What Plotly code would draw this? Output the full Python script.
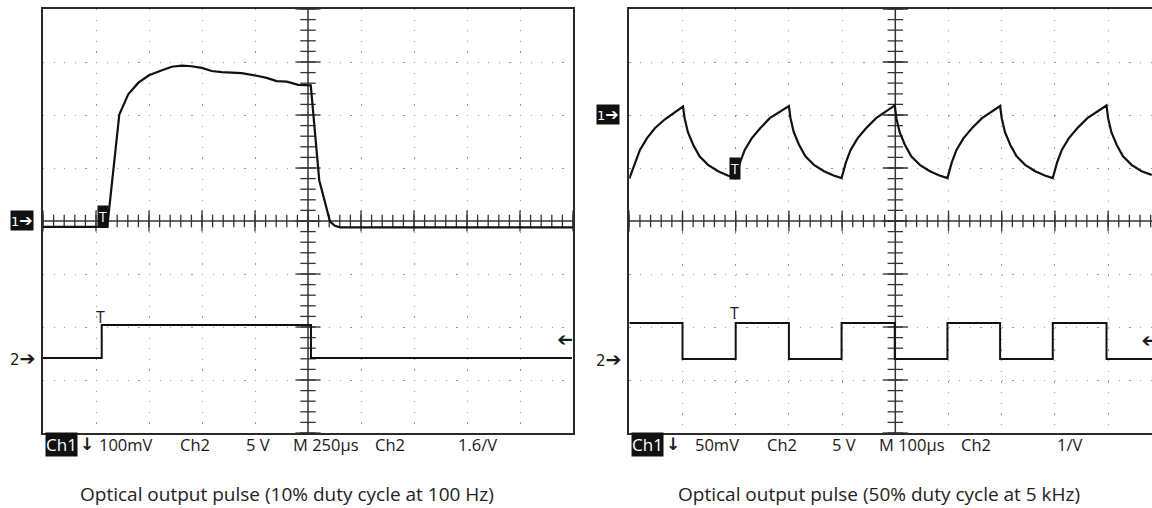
import numpy as np
import plotly.graph_objects as go

W, H = 1152, 508

# ---------------- data ----------------
# Left screen: 10% duty cycle at 100 Hz  (M 250 us/div, Ch1 100 mV/div, Ch2 5 V/div)
left_ch1_t = [-1250, -947, -890, -848, -800, -750, -698, -643, -596, -549, -501, -454,
              -407, -313, -242, -195, -148, -100, -46, 13, 53, 104, 127, 151, 1250]
left_ch1_mv = [-11, -11, 201, 239, 261, 275, 283, 291, 293, 292, 289, 283,
               281, 279, 274, 270, 264, 263, 257, 256, 77, -1, -9, -12, -12]
left_ch2_t = [-1250, -973, 14, 1245]
left_ch2_v = [0, 3.1, 0, 0]

# Right screen: 50% duty cycle at 5 kHz  (M 100 us/div, Ch1 50 mV/div, Ch2 5 V/div)
right_ch1_t = [-500, -495, -489, -480, -467, -452, -433, -414, -399,
               -396, -390, -380, -368, -352, -333, -315, -300,
               -292, -283, -270, -254, -236, -217, -200,
               -197, -191, -181, -169, -153, -134, -116, -101,
               -93, -84, -71, -55, -36, -18, -1,
               2, 8, 18, 30, 46, 65, 83, 98,
               106, 115, 128, 144, 163, 181, 197,
               200, 206, 216, 228, 244, 263, 281, 296,
               304, 313, 326, 342, 361, 379, 397,
               400, 406, 416, 428, 444, 463, 482]
right_ch1_mv = [-60, -53, -44, -33, -22, -12.5, -4, 2.5, 8,
                -3, -16, -28, -39, -47, -53, -57, -59.5,
                -45, -33, -22, -12.5, -3, 3, 8.5,
                -3, -16, -28, -39, -47, -53, -57, -59.5,
                -45, -33, -22, -12.5, -3, 3, 9,
                -3, -16, -28, -39, -47, -53, -57, -59.5,
                -45, -33, -22, -12.5, -3, 3, 8.5,
                -3, -16, -28, -39, -47, -53, -57, -59.5,
                -45, -33, -22, -12.5, -3, 3, 9,
                -3, -16, -28, -39, -47, -53, -56.5]
right_ch2_t = [-500, -400, -300, -200, -101, -1, 98, 197, 296, 397, 482.5]
right_ch2_v = [3.35, -0.05, 3.35, -0.05, 3.35, -0.05, 3.35, -0.05, 3.35, -0.05, -0.05]

left_labels = ["100mV", "Ch2", "5 V", "M 250µs", "Ch2", "1.6∕V"]
right_labels = ["50mV", "Ch2", "5 V", "M 100µs", "Ch2", "1∕V"]
captions = ["Optical output pulse (10% duty cycle at 100 Hz)",
            "Optical output pulse (50% duty cycle at 5 kHz)"]

# ---------------- layout geometry ----------------
def px(x):
    return x / W

def py(y):
    return (H - y) / H

Y_TOP, Y_BOT = 9, 433
FONT = "Open Sans"
INK = "#1a1a1a"
GRIDC = "#999999"
ARROW = "<span style='font-size:19px'>➔</span>"

fig = go.Figure()

def add_line(xs, ys, xa, ya, color="#333333", width=1.5):
    fig.add_trace(go.Scatter(x=xs, y=ys, mode="lines", xaxis=xa, yaxis=ya,
                             line=dict(color=color, width=width),
                             hoverinfo="skip", showlegend=False))

def add_ticks(xs, ys, symbol, size, xa, ya):
    fig.add_trace(go.Scatter(x=xs, y=ys, mode="markers", xaxis=xa, yaxis=ya,
                             marker=dict(symbol=symbol, size=size, color="#333333",
                                         line=dict(width=1.3, color="#333333")),
                             hoverinfo="skip", showlegend=False))

# graticule centre lines
add_line([0, 0], [-400, 400], "x", "y")
add_line([-1250, 1250], [0, 0], "x", "y")
add_line([0, 0], [-300, 100], "x2", "y3")
add_line([-500, 482.5], [-100, -100], "x2", "y3")

# graticule ticks on the centre lines (left)
lx = np.arange(-1250, 1251, 50)
add_ticks(lx, np.zeros(len(lx)), "line-ns", 9, "x", "y")
lxm = np.arange(-1250, 1251, 250)
add_ticks(lxm, np.zeros(len(lxm)), "line-ns", 15, "x", "y")
ly = np.arange(-400, 401, 20)
add_ticks(np.zeros(len(ly)), ly, "line-ew", 11, "x", "y")
lym = np.arange(-400, 401, 100)
add_ticks(np.zeros(len(lym)), lym, "line-ew", 18, "x", "y")

# graticule ticks (right)
rx = np.arange(-500, 483, 20)
add_ticks(rx, np.full(len(rx), -100.0), "line-ns", 9, "x2", "y3")
rxm = np.arange(-500, 483, 100)
add_ticks(rxm, np.full(len(rxm), -100.0), "line-ns", 15, "x2", "y3")
ry = np.arange(-300, 101, 10)
add_ticks(np.zeros(len(ry)), ry, "line-ew", 11, "x2", "y3")
rym = np.arange(-300, 101, 50)
add_ticks(np.zeros(len(rym)), rym, "line-ew", 18, "x2", "y3")

# waveforms
wave = dict(color="#111111", width=2.2)
fig.add_trace(go.Scatter(x=left_ch1_t, y=left_ch1_mv, mode="lines", line=wave,
                         xaxis="x", yaxis="y", hoverinfo="skip", showlegend=False))
fig.add_trace(go.Scatter(x=left_ch2_t, y=left_ch2_v, mode="lines",
                         line=dict(color="#111111", width=2.0, shape="hv"),
                         xaxis="x", yaxis="y2", hoverinfo="skip", showlegend=False))
fig.add_trace(go.Scatter(x=right_ch1_t, y=right_ch1_mv, mode="lines", line=wave,
                         xaxis="x2", yaxis="y3", hoverinfo="skip", showlegend=False))
fig.add_trace(go.Scatter(x=right_ch2_t, y=right_ch2_v, mode="lines",
                         line=dict(color="#111111", width=2.0, shape="hv"),
                         xaxis="x2", yaxis="y4", hoverinfo="skip", showlegend=False))

common = dict(showgrid=True, gridcolor=GRIDC, gridwidth=1.2, zeroline=False,
              showticklabels=False, ticks="", showline=True, linecolor="#2a2a2a",
              linewidth=1.6, fixedrange=True)
ydom = [py(Y_BOT), py(Y_TOP)]

fig.update_layout(
    width=W, height=H, autosize=False,
    margin=dict(l=0, r=0, t=0, b=0),
    paper_bgcolor="white", plot_bgcolor="white",
    showlegend=False,
    xaxis=dict(domain=[px(43), px(573)], range=[-1250, 1250], tick0=0, dtick=250,
               griddash="1.2px,9.4px", mirror=True, anchor="y", **common),
    yaxis=dict(domain=ydom, range=[-400, 400], tick0=0, dtick=100,
               griddash="1.2px,9.4px", mirror=True, anchor="x", **common),
    yaxis2=dict(overlaying="y", range=[-7.08, 32.92], showgrid=False, zeroline=False,
                showticklabels=False, ticks="", showline=False, anchor="x",
                fixedrange=True),
    xaxis2=dict(domain=[px(629.3), 1.0], range=[-500, 482.5], tick0=0, dtick=100,
                griddash="1.2px,9.44px", mirror=True, anchor="y3", **common),
    yaxis3=dict(domain=ydom, range=[-300, 100], tick0=0, dtick=50,
                griddash="1.2px,9.44px", mirror=False, anchor="x2", **common),
    yaxis4=dict(overlaying="y3", range=[-7.02, 32.98], showgrid=False, zeroline=False,
                showticklabels=False, ticks="", showline=False, anchor="x2",
                fixedrange=True),
)

ann = []
C = dict(xanchor="center", yanchor="middle", showarrow=False)
# channel reference markers
for xc, yref, yv in [(21.5, "y", 0), (607.5, "y3", 0)]:
    ann.append(dict(x=px(xc), xref="paper", y=yv, yref=yref,
                    text="1<span style='font-size:16px'>➔</span>",
                    bgcolor="#111111", borderpad=0,
                    font=dict(family="DejaVu Sans", size=13, color="white"), **C))
for xc, yref in [(22, "y2"), (608, "y4")]:
    ann.append(dict(x=px(xc), xref="paper", y=0, yref=yref, text="2" + ARROW,
                    font=dict(family="DejaVu Sans", size=15, color=INK), **C))
# trigger markers
ann.append(dict(x=-969, y=8, xref="x", yref="y", text="T",
                bgcolor="#111111", borderpad=1,
                font=dict(family=FONT, size=14, color="white"), **C))
ann.append(dict(x=-302, y=-50.8, xref="x2", yref="y3", text="T",
                bgcolor="#111111", borderpad=1,
                font=dict(family=FONT, size=14, color="white"), **C))
ann.append(dict(x=-981, y=3.9, xref="x", yref="y2", text="T",
                font=dict(family=FONT, size=16, color=INK), **C))
ann.append(dict(x=-302.6, y=4.3, xref="x2", yref="y4", text="T",
                font=dict(family=FONT, size=16, color=INK), **C))
# trigger level arrows (heavy arrow turned to point left)
ann.append(dict(x=1212, y=1.55, xref="x", yref="y2", text="➔", textangle=180,
                font=dict(family="DejaVu Sans", size=19, color=INK), **C))
ann.append(dict(x=478, y=1.55, xref="x2", yref="y4", text="➔", textangle=180,
                font=dict(family="DejaVu Sans", size=19, color=INK), **C))

# bottom status lines
YB = py(444)
for xc in [61, 647]:
    ann.append(dict(x=px(xc), y=YB, xref="paper", yref="paper", text="Ch1",
                    bgcolor="#111111", borderpad=0,
                    font=dict(family=FONT, size=17, color="white"), **C))
for xc in [87, 672.5]:
    ann.append(dict(x=px(xc), y=YB, xref="paper", yref="paper", text="<b>↓</b>",
                    font=dict(family="DejaVu Sans", size=17, color=INK), **C))
for lab, xc in zip(left_labels, [126, 195, 257.5, 326, 390, 477.5]):
    ann.append(dict(x=px(xc), y=YB, xref="paper", yref="paper", text=lab,
                    font=dict(family=FONT, size=16.5, color=INK), **C))
for lab, xc in zip(right_labels, [716.5, 782, 844, 912, 976, 1069]):
    ann.append(dict(x=px(xc), y=YB, xref="paper", yref="paper", text=lab,
                    font=dict(family=FONT, size=16.5, color=INK), **C))
# captions
for cap, xc in zip(captions, [287, 879]):
    ann.append(dict(x=px(xc), y=py(494), xref="paper", yref="paper", text=cap,
                    font=dict(family=FONT, size=19, color="#222222"), **C))

fig.update_layout(annotations=ann)
fig.write_html("out.html", config={"displayModeBar": False},
               post_script="document.body.style.margin='0px';document.body.style.overflow='hidden';")
